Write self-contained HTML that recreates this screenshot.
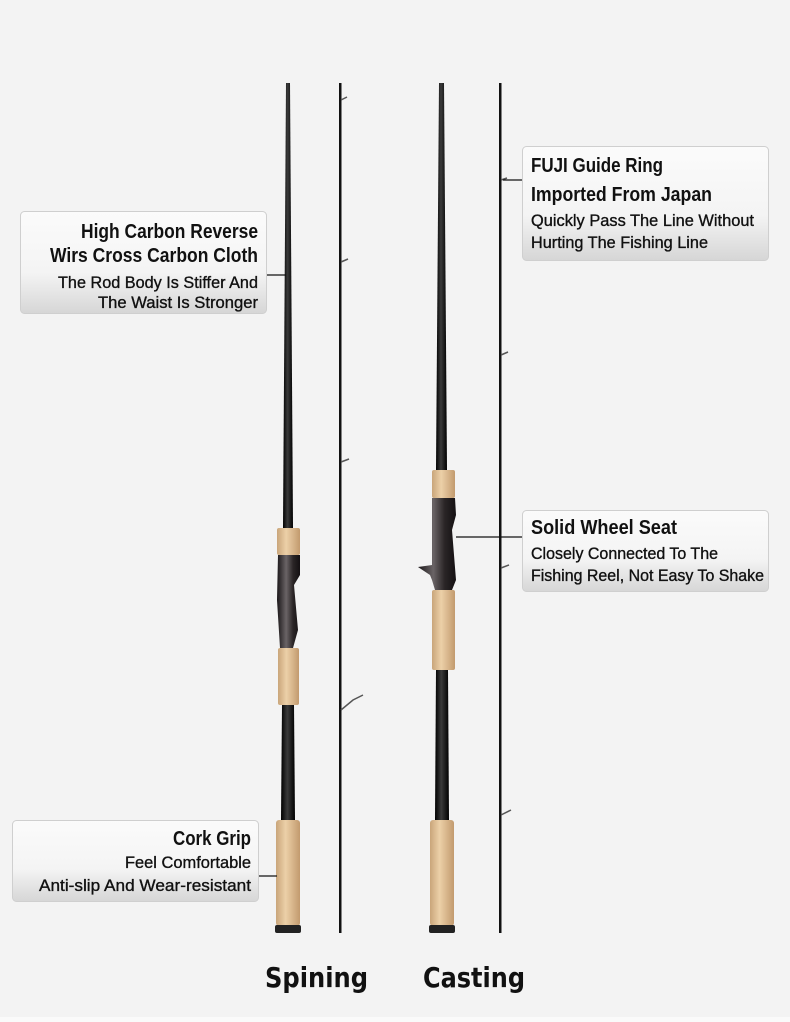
<!DOCTYPE html>
<html><head><meta charset="utf-8"><style>
html,body{margin:0;padding:0;background:#f3f3f3;}
svg{display:block}
text{font-family:"Liberation Sans Narrow","Liberation Sans",sans-serif;fill:#111}
.t{font-weight:bold;font-size:20px}
.b{font-size:17px;stroke:#111;stroke-width:0.35}
.big{font-family:"DejaVu Sans","Liberation Sans",sans-serif;font-weight:bold;font-size:28px}
</style></head><body>
<svg width="790" height="1022" viewBox="0 0 790 1022" xmlns="http://www.w3.org/2000/svg">
<defs>
<linearGradient id="bx" x1="0" y1="0" x2="0" y2="1">
<stop offset="0" stop-color="#fbfbfb"/><stop offset="0.6" stop-color="#f4f4f4"/><stop offset="1" stop-color="#d6d6d6"/>
</linearGradient>
<linearGradient id="cork" x1="0" y1="0" x2="1" y2="0">
<stop offset="0" stop-color="#c9a57a"/><stop offset="0.4" stop-color="#ecd0a8"/><stop offset="1" stop-color="#c29a6e"/>
</linearGradient>
<linearGradient id="blk" x1="0" y1="0" x2="1" y2="0">
<stop offset="0" stop-color="#000"/><stop offset="0.45" stop-color="#3a3a3a"/><stop offset="1" stop-color="#000"/>
</linearGradient>
<linearGradient id="seat" x1="0" y1="0" x2="1" y2="0">
<stop offset="0" stop-color="#1a1618"/><stop offset="0.4" stop-color="#6a6466"/><stop offset="0.7" stop-color="#2a2526"/><stop offset="1" stop-color="#141012"/>
</linearGradient>
</defs>
<rect width="790" height="1022" fill="#f3f3f3"/>
<rect y="1017" width="790" height="5" fill="#fafafa"/>

<polygon points="286,83 290,83 293,528 283,528" fill="url(#blk)"/>
<rect x="277" y="528" width="23" height="27" rx="2" fill="url(#cork)"/>
<path d="M278,555 H300 V575 L294,585 L298,630 L293,648 H280 L277,600 Z" fill="url(#seat)"/>
<rect x="278" y="648" width="21" height="57" rx="2" fill="url(#cork)"/>
<polygon points="282,705 294,705 295,820 281,820" fill="url(#blk)"/>
<rect x="276" y="820" width="24" height="106" rx="3" fill="url(#cork)"/>
<rect x="275" y="925" width="26" height="8" rx="2" fill="#222"/>

<rect x="339" y="83" width="2.5" height="850" fill="#111"/>
<g stroke="#555" stroke-width="1.5" fill="none">
<path d="M341,100 l6,-3"/><path d="M341,262 l7,-3"/><path d="M341,462 l8,-3"/><path d="M341,710 l12,-10 l10,-5"/>
</g>

<polygon points="439,83 444,83 447,470 436,470" fill="url(#blk)"/>
<rect x="432" y="470" width="23" height="28" rx="2" fill="url(#cork)"/>
<path d="M432,498 H455 L456,515 L452,530 L456,580 L452,590 H435 L432,580 L430,575 L418,567 L432,565 Z" fill="url(#seat)"/>
<rect x="432" y="590" width="23" height="80" rx="2" fill="url(#cork)"/>
<polygon points="436,670 448,670 449,820 435,820" fill="url(#blk)"/>
<rect x="430" y="820" width="24" height="106" rx="3" fill="url(#cork)"/>
<rect x="429" y="925" width="26" height="8" rx="2" fill="#222"/>

<rect x="499" y="83" width="2.5" height="850" fill="#111"/>
<g stroke="#555" stroke-width="1.5" fill="none">
<path d="M501,180 l6,-2"/><path d="M501,355 l7,-3"/><path d="M501,568 l8,-3"/><path d="M501,815 l10,-5"/>
</g>

<g stroke="#111" stroke-width="1.2">
<line x1="267" y1="275" x2="286" y2="275"/>
<line x1="503" y1="180" x2="522" y2="180"/>
<line x1="456" y1="537" x2="522" y2="537"/>
<line x1="259" y1="876" x2="277" y2="876"/>
</g>

<g fill="url(#bx)" stroke="#cfcfcf">
<rect x="20.5" y="211.5" width="246" height="102" rx="4"/>
<rect x="522.5" y="146.5" width="246" height="114" rx="4"/>
<rect x="522.5" y="510.5" width="246" height="81" rx="4"/>
<rect x="12.5" y="820.5" width="246" height="81" rx="4"/>
</g>

<text class="t" x="81" y="238" textLength="177" lengthAdjust="spacingAndGlyphs">High Carbon Reverse</text>
<text class="t" x="50" y="262" textLength="208" lengthAdjust="spacingAndGlyphs">Wirs Cross Carbon Cloth</text>
<text class="b" x="58" y="288" textLength="200" lengthAdjust="spacingAndGlyphs">The Rod Body Is Stiffer And</text>
<text class="b" x="98" y="308" textLength="160" lengthAdjust="spacingAndGlyphs">The Waist Is Stronger</text>

<text class="t" x="531" y="172" textLength="132" lengthAdjust="spacingAndGlyphs">FUJI Guide Ring</text>
<text class="t" x="531" y="201" textLength="181" lengthAdjust="spacingAndGlyphs">Imported From Japan</text>
<text class="b" x="531" y="226" textLength="223" lengthAdjust="spacingAndGlyphs">Quickly Pass The Line Without</text>
<text class="b" x="531" y="248" textLength="177" lengthAdjust="spacingAndGlyphs">Hurting The Fishing Line</text>

<text class="t" x="531" y="534" textLength="146" lengthAdjust="spacingAndGlyphs">Solid Wheel Seat</text>
<text class="b" x="531" y="559" textLength="187" lengthAdjust="spacingAndGlyphs">Closely Connected To The</text>
<text class="b" x="531" y="581" textLength="233" lengthAdjust="spacingAndGlyphs">Fishing Reel, Not Easy To Shake</text>

<text class="t" x="173" y="845" textLength="78" lengthAdjust="spacingAndGlyphs">Cork Grip</text>
<text class="b" x="125" y="868" textLength="126" lengthAdjust="spacingAndGlyphs">Feel Comfortable</text>
<text class="b" x="39" y="891" textLength="212" lengthAdjust="spacingAndGlyphs">Anti-slip And Wear-resistant</text>

<text class="big" x="265" y="987" textLength="103" lengthAdjust="spacingAndGlyphs">Spining</text>
<text class="big" x="423" y="987" textLength="102" lengthAdjust="spacingAndGlyphs">Casting</text>
</svg>
</body></html>
